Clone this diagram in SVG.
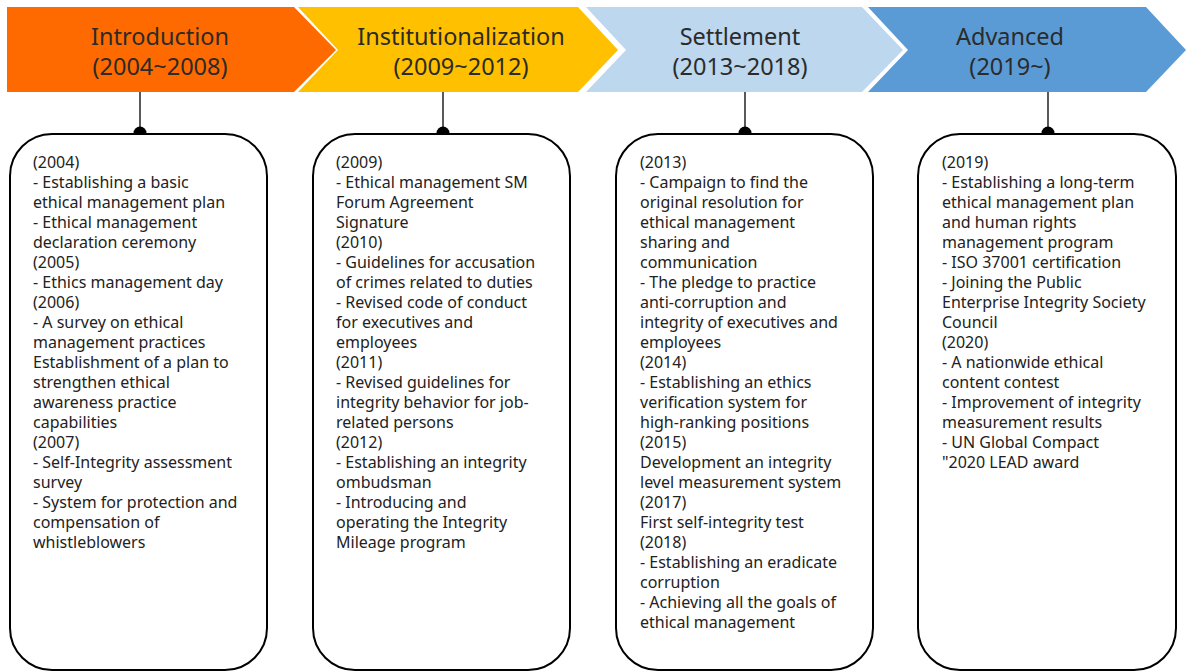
<svg xmlns="http://www.w3.org/2000/svg" width="1188" height="671" viewBox="0 0 1188 671">
<style>
.hd{font-family:"Noto Sans","Liberation Sans",sans-serif;font-size:23.5px;fill:#2b2b2b;text-anchor:middle}
.bx{fill:#fff;stroke:#000;stroke-width:2}
.tx{font-family:"Noto Sans","Liberation Sans",sans-serif;font-size:16px;fill:#222}
.ln{stroke:#000;stroke-width:1.3}
</style>
<rect width="1188" height="671" fill="#fff"/>
<g id="phase1">
<polygon points="7,7 294,7 336,50 294,92 7,92" fill="#FF6A00"/>
<text class="hd" x="160" y="45">Introduction</text>
<text class="hd" x="160" y="75">(2004~2008)</text>
</g>
<g id="phase2">
<polygon points="298,7 578,7 618,50 578,92 298,92 338,50" fill="#FFC000"/>
<text class="hd" x="461" y="45">Institutionalization</text>
<text class="hd" x="461" y="75">(2009~2012)</text>
</g>
<g id="phase3">
<polygon points="586,7 862,7 903,50 862,92 586,92 626,50" fill="#BDD7EE"/>
<text class="hd" x="740" y="45">Settlement</text>
<text class="hd" x="740" y="75">(2013~2018)</text>
</g>
<g id="phase4">
<polygon points="868,7 1146,7 1186,50 1146,92 868,92 908,50" fill="#5B9BD5"/>
<text class="hd" x="1010" y="45">Advanced</text>
<text class="hd" x="1010" y="75">(2019~)</text>
</g>
<g id="connectors">
<line class="ln" x1="140" y1="92" x2="140" y2="133"/><circle cx="140" cy="133" r="6.5"/>
<line class="ln" x1="443" y1="92" x2="443" y2="133"/><circle cx="443" cy="133" r="6.5"/>
<line class="ln" x1="745" y1="92" x2="745" y2="133"/><circle cx="745" cy="133" r="6.5"/>
<line class="ln" x1="1048" y1="92" x2="1048" y2="133"/><circle cx="1048" cy="133" r="6.5"/>
</g>
<g id="box1">
<rect class="bx" x="10" y="134" width="257" height="536" rx="42"/>
<text class="tx" x="33" y="168">
<tspan x="33" dy="0">(2004)</tspan>
<tspan x="33" dy="20">- Establishing a basic</tspan>
<tspan x="33" dy="20">ethical management plan</tspan>
<tspan x="33" dy="20">- Ethical management</tspan>
<tspan x="33" dy="20">declaration ceremony</tspan>
<tspan x="33" dy="20">(2005)</tspan>
<tspan x="33" dy="20">- Ethics management day</tspan>
<tspan x="33" dy="20">(2006)</tspan>
<tspan x="33" dy="20">- A survey on ethical</tspan>
<tspan x="33" dy="20">management practices</tspan>
<tspan x="33" dy="20">Establishment of a plan to</tspan>
<tspan x="33" dy="20">strengthen ethical</tspan>
<tspan x="33" dy="20">awareness practice</tspan>
<tspan x="33" dy="20">capabilities</tspan>
<tspan x="33" dy="20">(2007)</tspan>
<tspan x="33" dy="20">- Self-Integrity assessment</tspan>
<tspan x="33" dy="20">survey</tspan>
<tspan x="33" dy="20">- System for protection and</tspan>
<tspan x="33" dy="20">compensation of</tspan>
<tspan x="33" dy="20">whistleblowers</tspan>
</text>
</g>
<g id="box2">
<rect class="bx" x="313" y="134" width="257" height="536" rx="42"/>
<text class="tx" x="336" y="168">
<tspan x="336" dy="0">(2009)</tspan>
<tspan x="336" dy="20">- Ethical management SM</tspan>
<tspan x="336" dy="20">Forum Agreement</tspan>
<tspan x="336" dy="20">Signature</tspan>
<tspan x="336" dy="20">(2010)</tspan>
<tspan x="336" dy="20">- Guidelines for accusation</tspan>
<tspan x="336" dy="20">of crimes related to duties</tspan>
<tspan x="336" dy="20">- Revised code of conduct</tspan>
<tspan x="336" dy="20">for executives and</tspan>
<tspan x="336" dy="20">employees</tspan>
<tspan x="336" dy="20">(2011)</tspan>
<tspan x="336" dy="20">- Revised guidelines for</tspan>
<tspan x="336" dy="20">integrity behavior for job-</tspan>
<tspan x="336" dy="20">related persons</tspan>
<tspan x="336" dy="20">(2012)</tspan>
<tspan x="336" dy="20">- Establishing an integrity</tspan>
<tspan x="336" dy="20">ombudsman</tspan>
<tspan x="336" dy="20">- Introducing and</tspan>
<tspan x="336" dy="20">operating the Integrity</tspan>
<tspan x="336" dy="20">Mileage program</tspan>
</text>
</g>
<g id="box3">
<rect class="bx" x="616" y="134" width="257" height="536" rx="42"/>
<text class="tx" x="640" y="168">
<tspan x="640" dy="0">(2013)</tspan>
<tspan x="640" dy="20">- Campaign to find the</tspan>
<tspan x="640" dy="20">original resolution for</tspan>
<tspan x="640" dy="20">ethical management</tspan>
<tspan x="640" dy="20">sharing and</tspan>
<tspan x="640" dy="20">communication</tspan>
<tspan x="640" dy="20">- The pledge to practice</tspan>
<tspan x="640" dy="20">anti-corruption and</tspan>
<tspan x="640" dy="20">integrity of executives and</tspan>
<tspan x="640" dy="20">employees</tspan>
<tspan x="640" dy="20">(2014)</tspan>
<tspan x="640" dy="20">- Establishing an ethics</tspan>
<tspan x="640" dy="20">verification system for</tspan>
<tspan x="640" dy="20">high-ranking positions</tspan>
<tspan x="640" dy="20">(2015)</tspan>
<tspan x="640" dy="20">Development an integrity</tspan>
<tspan x="640" dy="20">level measurement system</tspan>
<tspan x="640" dy="20">(2017)</tspan>
<tspan x="640" dy="20">First self-integrity test</tspan>
<tspan x="640" dy="20">(2018)</tspan>
<tspan x="640" dy="20">- Establishing an eradicate</tspan>
<tspan x="640" dy="20">corruption</tspan>
<tspan x="640" dy="20">- Achieving all the goals of</tspan>
<tspan x="640" dy="20">ethical management</tspan>
</text>
</g>
<g id="box4">
<rect class="bx" x="918" y="134" width="258" height="536" rx="42"/>
<text class="tx" x="942" y="168">
<tspan x="942" dy="0">(2019)</tspan>
<tspan x="942" dy="20">- Establishing a long-term</tspan>
<tspan x="942" dy="20">ethical management plan</tspan>
<tspan x="942" dy="20">and human rights</tspan>
<tspan x="942" dy="20">management program</tspan>
<tspan x="942" dy="20">- ISO 37001 certification</tspan>
<tspan x="942" dy="20">- Joining the Public</tspan>
<tspan x="942" dy="20">Enterprise Integrity Society</tspan>
<tspan x="942" dy="20">Council</tspan>
<tspan x="942" dy="20">(2020)</tspan>
<tspan x="942" dy="20">- A nationwide ethical</tspan>
<tspan x="942" dy="20">content contest</tspan>
<tspan x="942" dy="20">- Improvement of integrity</tspan>
<tspan x="942" dy="20">measurement results</tspan>
<tspan x="942" dy="20">- UN Global Compact</tspan>
<tspan x="942" dy="20">"2020 LEAD award</tspan>
</text>
</g>
</svg>
